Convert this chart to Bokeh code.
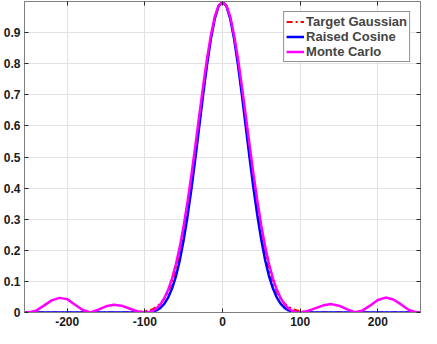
from bokeh.plotting import figure
from bokeh.models import Range1d, LinearAxis, FixedTicker, CustomJSTickFormatter, Legend, LegendItem
from bokeh.embed import file_html
from bokeh.resources import INLINE

# ---- data ----
x = [-255, -250, -240, -230, -220, -210, -200, -190, -180, -170, -160, -150, -140, -130, -120, -110,
     -100, -95, -90, -85, -80, -75, -70, -65, -60, -55, -50, -45, -40, -35, -30, -25, -20, -15, -10, -5,
     0,
     5, 10, 15, 20, 25, 30, 35, 40, 45, 50, 55, 60, 65, 70, 75, 80, 85, 90, 95, 100,
     110, 120, 130, 140, 150, 160, 170, 180, 190, 200, 210, 220, 230, 240, 250, 255]

target_gaussian = [0, 0, 0, 0, 0, 0, 0, 0, 0, 0, 0, 0, 0, 0, 0, 0.001,
                   0.004, 0.007, 0.011, 0.018, 0.029, 0.044, 0.066, 0.096, 0.135, 0.186, 0.249, 0.325,
                   0.411, 0.506, 0.607, 0.707, 0.801, 0.882, 0.946, 0.986,
                   0.998,
                   0.986, 0.946, 0.882, 0.801, 0.707, 0.607, 0.506, 0.411, 0.325, 0.249, 0.186, 0.135,
                   0.096, 0.066, 0.044, 0.029, 0.018, 0.011, 0.007, 0.004,
                   0.001, 0, 0, 0, 0, 0, 0, 0, 0, 0, 0, 0, 0, 0, 0, 0]

raised_cosine = [0, 0, 0, 0, 0, 0, 0, 0, 0, 0, 0, 0, 0, 0, 0, 0,
                 0.000, 0.001, 0.003, 0.007, 0.015, 0.028, 0.048, 0.077, 0.116, 0.168, 0.233, 0.310,
                 0.398, 0.495, 0.597, 0.699, 0.795, 0.879, 0.944, 0.986,
                 0.998,
                 0.986, 0.944, 0.879, 0.795, 0.699, 0.597, 0.495, 0.398, 0.310, 0.233, 0.168, 0.116,
                 0.077, 0.048, 0.028, 0.015, 0.007, 0.003, 0.001, 0.000,
                 0, 0, 0, 0, 0, 0, 0, 0, 0, 0, 0, 0, 0, 0, 0, 0]

monte_carlo = [0.000, 0.000, 0.006, 0.022, 0.039, 0.047, 0.043, 0.025, 0.008, 0.000, 0.009, 0.020,
               0.025, 0.022, 0.013, 0.004,
               0.000, 0.001, 0.005, 0.013, 0.026, 0.046, 0.073, 0.109, 0.155, 0.211, 0.279, 0.357,
               0.443, 0.536, 0.632, 0.727, 0.815, 0.891, 0.951, 0.987,
               0.999,
               0.987, 0.951, 0.891, 0.815, 0.727, 0.632, 0.536, 0.443, 0.357, 0.279, 0.211, 0.155,
               0.109, 0.073, 0.046, 0.026, 0.013, 0.005, 0.001, 0.000,
               0.005, 0.014, 0.023, 0.027, 0.022, 0.011, 0.001, 0.006, 0.022, 0.040, 0.048, 0.042,
               0.026, 0.008, 0.000, 0.000]

x_ticks = [-200, -100, 0, 100, 200]
y_ticks = [0, 0.1, 0.2, 0.3, 0.4, 0.5, 0.6, 0.7, 0.8, 0.9]
series_names = ["Target Gaussian", "Raised Cosine", "Monte Carlo"]

# ---- figure ----
AX = "#808080"
GRID = "#e2e2e2"
FONT = "Liberation Sans"

p = figure(width=421, height=328, output_backend="svg", toolbar_location=None,
           x_range=Range1d(-255, 255), y_range=Range1d(0, 1),
           min_border_left=4, min_border_right=1, min_border_top=1, min_border_bottom=2,
           background_fill_color="white", border_fill_color="white")
p.outline_line_color = AX
p.outline_line_width = 1

fmt = CustomJSTickFormatter(code="return String(tick);")
for ax, ticks in ((p.xaxis[0], x_ticks), (p.yaxis[0], y_ticks)):
    ax.ticker = FixedTicker(ticks=ticks)
    ax.formatter = fmt
    ax.axis_line_color = AX
    ax.major_tick_line_color = "#262626"
    ax.major_tick_in = 4
    ax.major_tick_out = 0
    ax.minor_tick_line_color = None
    ax.major_label_text_font = FONT
    ax.major_label_text_font_style = "bold"
    ax.major_label_text_font_size = "12px"
    ax.major_label_text_color = "#1a1a1a"
    ax.major_label_standoff = 4

for loc, ticks in (("right", y_ticks), ("above", x_ticks)):
    a = LinearAxis(ticker=FixedTicker(ticks=ticks), axis_line_color=AX,
                   major_tick_line_color="#262626", major_tick_in=4, major_tick_out=0,
                   minor_tick_line_color=None, major_label_standoff=0,
                   major_label_overrides={t: "" for t in ticks})
    p.add_layout(a, loc)

p.xgrid.ticker = FixedTicker(ticks=x_ticks)
p.ygrid.ticker = FixedTicker(ticks=y_ticks)
p.xgrid.grid_line_color = GRID
p.ygrid.grid_line_color = GRID

r1 = p.line(x, target_gaussian, line_color="#ff0000", line_width=2, line_dash="6 3 2 3")
r2 = p.line(x, raised_cosine, line_color="#0000ff", line_width=2.5)
r3 = p.line(x, monte_carlo, line_color="#ff00ff", line_width=2.5)

legend = Legend(items=[LegendItem(label=series_names[0], renderers=[r1]),
                       LegendItem(label=series_names[1], renderers=[r2]),
                       LegendItem(label=series_names[2], renderers=[r3])],
                location="top_right")
legend.margin = 10
legend.padding = 2
legend.spacing = 0
legend.glyph_width = 18
legend.glyph_height = 13
legend.label_height = 13
legend.label_standoff = 2
legend.label_text_font = FONT
legend.label_text_font_style = "bold"
legend.label_text_font_size = "13px"
legend.label_text_line_height = 1.0
legend.border_line_color = "#262626"
legend.border_line_width = 1
legend.background_fill_color = "white"
legend.background_fill_alpha = 1
p.add_layout(legend)

open("out.html", "w").write(file_html(p, INLINE))
